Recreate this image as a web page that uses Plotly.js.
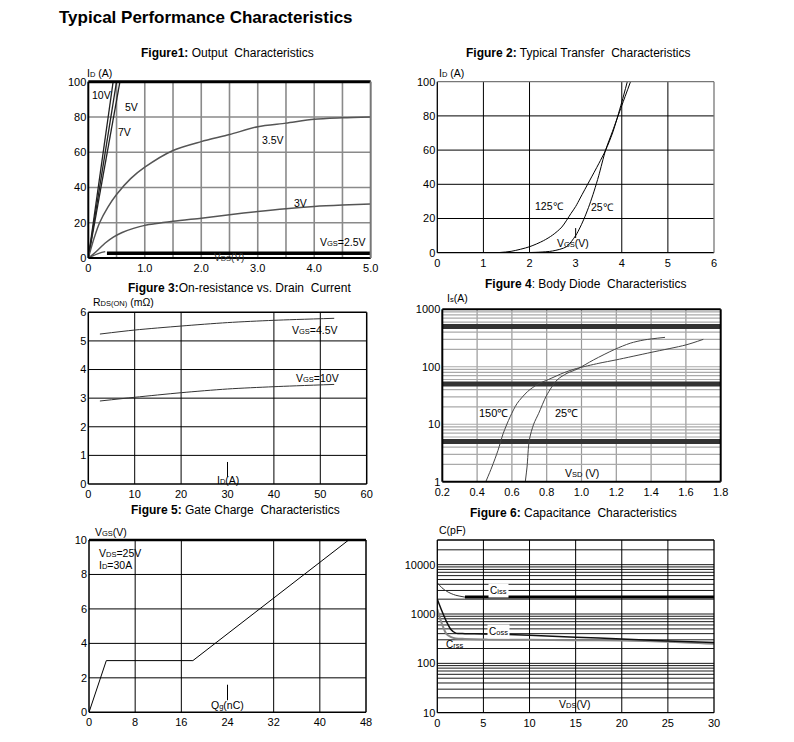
<!DOCTYPE html>
<html><head><meta charset="utf-8">
<script src="https://cdn.plot.ly/plotly-3.0.1.min.js"></script>
<style>body{margin:0;background:#fff}</style>
</head><body><div id="c" style="width:794px;height:742px"></div>
<script>
// ---------- Figure 1: Output characteristics ----------
const f1_vds10 = [0, 0.1, 0.2, 0.3, 0.44];
const f1_id10  = [0, 23, 46, 68, 100];
const f1_vds7  = [0, 0.1, 0.2, 0.3, 0.4, 0.5];
const f1_id7   = [0, 20, 40, 60, 80, 100];
const f1_vds5  = [0, 0.1, 0.2, 0.3, 0.4, 0.5, 0.56];
const f1_id5   = [0, 18, 36, 54, 71, 89, 100];
const f1_vds35 = [0, 0.1, 0.2, 0.35, 0.5, 0.75, 1.0, 1.5, 2.0, 2.5, 3.0, 3.5, 4.0, 4.5, 5.0];
const f1_id35  = [0, 11, 20, 29, 36, 45, 51.5, 61, 66, 70, 74.5, 76.5, 78.7, 79.5, 80];
const f1_vds3  = [0, 0.1, 0.2, 0.3, 0.45, 0.6, 0.8, 1.0, 1.5, 2.0, 2.5, 3.0, 3.5, 4.0, 4.5, 5.0];
const f1_id3   = [0, 2.5, 5.5, 8.5, 12, 14.5, 16.8, 18.5, 20.8, 22.6, 24.5, 26.4, 28, 29.2, 30, 30.6];
const f1_vds25a = [0, 0.1, 0.2, 0.3];
const f1_id25a  = [0, 1.5, 2.8, 3.6];
const f1_vds25b = [0.33, 5.0];
const f1_id25b  = [2.7, 2.7];
const f1_xticks = [0, 1, 2, 3, 4, 5];
const f1_xlabels = ['0', '1.0', '2.0', '3.0', '4.0', '5.0'];
const f1_yticks = [0, 20, 40, 60, 80, 100];

// ---------- Figure 2: Transfer characteristics ----------
const f2_vgs125 = [1.3, 1.6, 2.0, 2.3, 2.5, 2.7, 2.9, 3.0, 3.1, 3.3, 3.5, 3.65, 3.8, 4.0, 4.12];
const f2_id125  = [0, 0.8, 3.5, 7, 10.3, 15, 23, 27, 32, 42, 52, 60, 70, 88, 100];
const f2_vgs25  = [1.8, 2.2, 2.5, 2.8, 3.0, 3.1, 3.2, 3.3, 3.4, 3.5, 3.65, 3.8, 4.0, 4.19];
const f2_id25   = [0, 0.3, 1, 3.5, 10, 15, 21, 28, 36, 45, 60, 71, 86, 100];
const f2_xticks = [0, 1, 2, 3, 4, 5, 6];
const f2_yticks = [0, 20, 40, 60, 80, 100];

// ---------- Figure 3: On-resistance vs drain current ----------
const f3_id   = [2.5, 10, 20, 30, 40, 53];
const f3_r45  = [5.24, 5.38, 5.52, 5.64, 5.72, 5.79];
const f3_r10  = [2.9, 3.03, 3.19, 3.32, 3.40, 3.48];
const f3_xticks = [0, 10, 20, 30, 40, 50, 60];
const f3_yticks = [0, 1, 2, 3, 4, 5, 6];

// ---------- Figure 4: Body diode ----------
const f4_v150 = [0.45, 0.485, 0.52, 0.55, 0.59, 0.63, 0.69, 0.75, 0.81, 0.9, 0.97, 1.1, 1.2, 1.4, 1.6, 1.7];
const f4_i150 = [1, 1.8, 3.5, 6.9, 13.5, 23, 37, 50, 60, 79, 93, 115, 132, 178, 240, 300];
const f4_v25  = [0.677, 0.687, 0.70, 0.725, 0.754, 0.80, 0.86, 0.917, 0.975, 1.07, 1.19, 1.28, 1.36, 1.48];
const f4_i25  = [1, 1.8, 5.3, 10, 15.5, 32, 59, 77, 91, 132, 200, 257, 293, 325];
const f4_xticks = [0.2, 0.4, 0.6, 0.8, 1.0, 1.2, 1.4, 1.6, 1.8];
const f4_xlabels = ['0.2', '0.4', '0.6', '0.8', '1.0', '1.2', '1.4', '1.6', '1.8'];
const f4_yticks = [1, 10, 100, 1000];

// ---------- Figure 5: Gate charge ----------
const f5_qg  = [0, 3, 18, 45];
const f5_vgs = [0, 3, 3, 10];
const f5_xticks = [0, 8, 16, 24, 32, 40, 48];
const f5_yticks = [0, 2, 4, 6, 8, 10];

// ---------- Figure 6: Capacitance ----------
const f6_vds  = [0, 0.5, 1, 1.5, 2, 3, 5, 10, 15, 20, 25, 30];
const f6_ciss = [4300, 3400, 2900, 2600, 2400, 2200, 2200, 2200, 2200, 2200, 2200, 2200];
const f6_coss = [2000, 1150, 700, 480, 410, 400, 395, 370, 340, 310, 285, 265];
const f6_crss = [1250, 630, 390, 340, 320, 313, 305, 300, 295, 290, 275, 250];
const f6_xticks = [0, 5, 10, 15, 20, 25, 30];
const f6_yticks = [10, 100, 1000, 10000];

// ================= layout helpers =================
const W = 794, H = 742;
const PX = x => x / W, PY = y => 1 - y / H;
const box = {
  1: [88.3, 370.7, 81.7, 258],
  2: [437.3, 714, 81.7, 252.7],
  3: [88.3, 366.7, 312.3, 484],
  4: [442.3, 720.7, 309.3, 481.7],
  5: [89, 366, 540, 712.3],
  6: [437.3, 714, 540, 712.7]
};
const FONT = 'Liberation Sans, Arial, sans-serif';
function mkAxes(n, xr, yr, xt, xl, yt, ylog) {
  const b = box[n];
  const xa = {domain: [PX(b[0]), PX(b[1])], range: xr, tickvals: xt, ticktext: xl || xt.map(String),
    showgrid: false, zeroline: false, showline: false, ticks: '', ticklabelstandoff: 2,
    tickfont: {size: 11, color: '#000'}, anchor: 'y' + (n === 1 ? '' : n), fixedrange: true};
  const ya = {domain: [PY(b[3]), PY(b[2])], range: yr, tickvals: yt, ticktext: yt.map(String),
    showgrid: false, zeroline: false, showline: false, ticks: '', ticklabelstandoff: 1,
    tickfont: {size: 11, color: '#000'}, anchor: 'x' + (n === 1 ? '' : n), fixedrange: true};
  if (ylog) ya.type = 'log';
  return [xa, ya];
}
const layout = {
  width: W, height: H, margin: {l: 0, r: 0, t: 0, b: 0}, showlegend: false,
  paper_bgcolor: '#fff', plot_bgcolor: '#fff', font: {family: FONT, color: '#000', size: 11},
  shapes: [], annotations: []
};
const axdefs = [
  mkAxes(1, [0, 5], [0, 100], f1_xticks, f1_xlabels, f1_yticks),
  mkAxes(2, [0, 6], [0, 100], f2_xticks, null, f2_yticks),
  mkAxes(3, [0, 60], [0, 6], f3_xticks, null, f3_yticks),
  mkAxes(4, [0.2, 1.8], [0, 3], f4_xticks, f4_xlabels, f4_yticks, true),
  mkAxes(5, [0, 48], [0, 10], f5_xticks, null, f5_yticks),
  mkAxes(6, [0, 30], [1, 4.5], f6_xticks, null, f6_yticks, true)
];
axdefs.forEach((a, i) => {
  const s = i === 0 ? '' : (i + 1);
  layout['xaxis' + s] = a[0];
  layout['yaxis' + s] = a[1];
});
const xr = n => 'x' + (n === 1 ? '' : n), yr = n => 'y' + (n === 1 ? '' : n);

function vgrid(n, vals, color, w, y0, y1) {
  vals.forEach(v => layout.shapes.push({type: 'line', layer: 'below', xref: xr(n),
    yref: y0 === undefined ? yr(n) + ' domain' : yr(n), x0: v, x1: v,
    y0: y0 === undefined ? 0 : y0, y1: y1 === undefined ? 1 : y1, line: {color: color, width: w}}));
}
function hgrid(n, vals, color, w) {
  vals.forEach(v => layout.shapes.push({type: 'line', layer: 'below', xref: xr(n) + ' domain', yref: yr(n),
    x0: 0, x1: 1, y0: v, y1: v, line: {color: color, width: w}}));
}
function frame(n, left, bottom, top, right) {
  const d = [[left, 0, 0, 0, 1], [bottom, 0, 0, 1, 0], [top, 0, 1, 1, 1], [right, 1, 0, 1, 1]];
  d.forEach(s => layout.shapes.push({type: 'line', layer: 'above', xref: xr(n) + ' domain', yref: yr(n) + ' domain',
    x0: s[1], y0: s[2], x1: s[3], y1: s[4], line: {color: s[0][0], width: s[0][1]}}));
}

// grids
vgrid(1, [0.5, 1, 1.5, 2, 2.5, 3, 3.5, 4, 4.5], '#8a8a8a', 1.6);
hgrid(1, [20, 40, 60, 80], '#8a8a8a', 1.6);
vgrid(2, [1, 2, 4, 5], '#000', 1);
vgrid(2, [3], '#000', 1, 8.6, 14.4);
hgrid(2, [20, 40, 60, 80], '#000', 1);
vgrid(3, [10, 20, 40, 50], '#000', 1);
vgrid(3, [30], '#000', 1, 0.25, 0.77);
hgrid(3, [1, 2, 3, 4, 5], '#000', 1);
vgrid(4, [0.4, 0.6, 0.8, 1.0, 1.2, 1.4, 1.6], '#999', 1.2);
const f4minor = [];
[1, 10, 100].forEach(d => [1, 2, 3, 4, 6, 7, 8, 9].forEach(m => { if (m * d > 1) f4minor.push(m * d); }));
hgrid(4, f4minor, '#aaa', 1.2);
hgrid(4, [5, 50, 500], '#333', 5);
vgrid(5, [8, 16, 32, 40], '#000', 1);
vgrid(5, [24], '#000', 1, 0.7, 1.6);
hgrid(5, [2, 4, 6, 8], '#000', 1);
vgrid(6, [5, 10, 15, 20, 25], '#000', 1);
const f6minor = [];
[10, 100, 1000, 10000].forEach(d => [1, 2, 3, 4, 5, 6, 7, 8, 9].forEach(m => { if (m * d > 10 && m * d < 30000) f6minor.push(m * d); }));
hgrid(6, f6minor, '#000', 0.9);

// frames: [color,width] for left,bottom,top,right
frame(1, ['#000', 2], ['#000', 2], ['#000', 3], ['#777', 2]);
frame(2, ['#000', 1.3], ['#000', 1.3], ['#777', 1.3], ['#777', 1.3]);
frame(3, ['#000', 1.5], ['#000', 1.5], ['#000', 1.5], ['#000', 1.5]);
frame(4, ['#000', 2], ['#000', 2], ['#000', 2], ['#000', 2]);
frame(5, ['#000', 1.5], ['#000', 1.5], ['#000', 2.5], ['#000', 1.5]);
frame(6, ['#000', 1.3], ['#000', 1.3], ['#000', 1.3], ['#000', 1.3]);

// traces
const traces = [];
function L(n, x, y, color, w, smooth) {
  traces.push({type: 'scatter', mode: 'lines', x: x, y: y, xaxis: xr(n), yaxis: yr(n), hoverinfo: 'skip',
    line: {color: color, width: w, shape: smooth ? 'spline' : 'linear', smoothing: 0.8}});
}
L(1, f1_vds10, f1_id10, '#222', 1.3);
L(1, f1_vds7, f1_id7, '#222', 1.3);
L(1, f1_vds5, f1_id5, '#222', 1.3);
L(1, f1_vds35, f1_id35, '#555', 1.5, true);
L(1, f1_vds3, f1_id3, '#555', 1.5, true);
L(1, f1_vds25a, f1_id25a, '#555', 1.3, true);
L(1, f1_vds25b, f1_id25b, '#000', 3.5);
L(2, f2_vgs125, f2_id125, '#000', 1, true);
L(2, f2_vgs25, f2_id25, '#000', 1, true);
L(3, f3_id, f3_r45, '#333', 1, true);
L(3, f3_id, f3_r10, '#333', 1, true);
L(4, f4_v150, f4_i150, '#444', 1, true);
L(4, f4_v25, f4_i25, '#444', 1, true);
L(5, f5_qg, f5_vgs, '#000', 1);
L(6, f6_vds.slice(0, 6), f6_ciss.slice(0, 6), '#333', 1, true);
L(6, f6_vds.slice(5), f6_ciss.slice(5), '#000', 3);
L(6, f6_vds, f6_crss, '#888', 2, true);
L(6, f6_vds, f6_coss, '#111', 1.5, true);

// annotations (paper coords from pixel positions)
function T(text, x, y, size, opts) {
  layout.annotations.push(Object.assign({text: text, xref: 'paper', yref: 'paper', x: PX(x), y: PY(y),
    xanchor: 'center', yanchor: 'middle', showarrow: false, font: {size: size, color: '#000', family: FONT}}, opts || {}));
}
const s = t => '<span style="font-size:7.5px">' + t + '</span>';
T('<b>Typical Performance Characteristics</b>', 57, 17, 17, {xanchor: 'left'});
T('<b>Figure1:</b> Output  Characteristics', 227, 53, 12);
T('<b>Figure 2:</b> Typical Transfer  Characteristics', 578, 53, 12);
T('<b>Figure 3:</b>On-resistance vs. Drain  Current', 239, 288, 12);
T('<b>Figure 4</b>: Body Diode  Characteristics', 585, 284, 12);
T('<b>Figure 5:</b> Gate Charge  Characteristics', 235.5, 510, 12);
T('<b>Figure 6:</b> Capacitance  Characteristics', 573.5, 513, 12);
// axis labels
T('I' + s('D') + ' (A)', 85, 73, 10.5, {xanchor: 'left'});
T('I' + s('D') + ' (A)', 437, 73, 10.5, {xanchor: 'left'});
T('R' + s('DS(ON)') + ' (mΩ)', 91, 302, 10.5, {xanchor: 'left'});
T('I' + s('s') + '(A)', 445, 298, 10.5, {xanchor: 'left'});
T('V' + s('GS') + '(V)', 93, 532, 10.5, {xanchor: 'left'});
T('C(pF)', 437, 530, 10.5, {xanchor: 'left'});
T('V' + s('DS') + '(V)', 229, 257, 10, {font: {size: 10, color: '#333', family: FONT}});
T('V' + s('GS') + '(V)', 573, 243, 10.5);
T('I' + s('D') + '(A)', 228, 480, 10.5);
T('V' + s('SD') + ' (V)', 582, 473, 10.5);
T('Q' + s('g') + '(nC)', 227, 705, 10.5);
T('V' + s('DS') + '(V)', 574, 704, 10.5);
// curve labels
T('10V', 101, 95, 10.5);
T('5V', 131, 107, 10.5);
T('7V', 125, 132, 10.5);
T('3.5V', 273, 140, 10.5);
T('3V', 300, 203, 10.5);
T('V' + s('GS') + '=2.5V', 343, 242, 10.5);
T('125℃', 549, 206, 10.5);
T('25℃', 602, 207, 10.5);
T('V' + s('GS') + '=4.5V', 315, 330, 10.5);
T('V' + s('GS') + '=10V', 317, 378, 10.5);
T('150℃', 493, 413, 11);
T('25℃', 566, 413, 11);
T('V' + s('DS') + '=25V', 97, 553, 10.5, {xanchor: 'left'});
T('I' + s('D') + '=30A', 97, 565, 10.5, {xanchor: 'left'});
T('C' + s('iss'), 498, 590, 10, {bgcolor: '#fff'});
T('C' + s('oss'), 498, 631, 10, {bgcolor: '#fff'});
T('C' + s('rss'), 455, 644, 10);

Plotly.newPlot('c', traces, layout, {staticPlot: true, displayModeBar: false});
</script></body></html>
